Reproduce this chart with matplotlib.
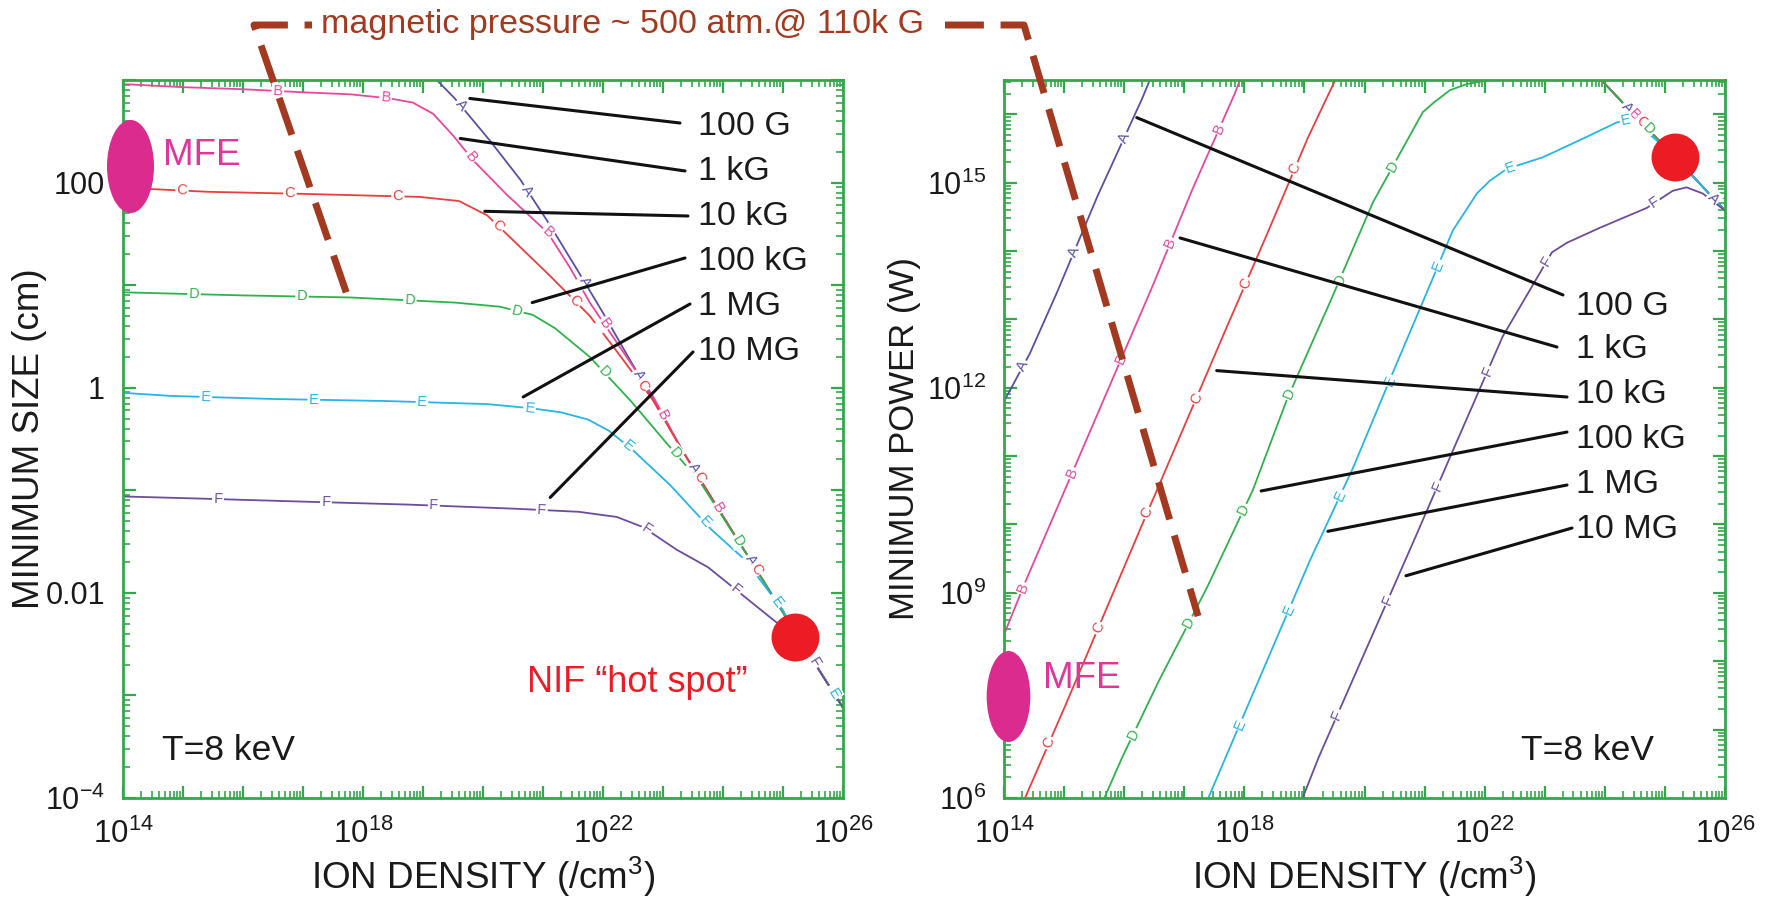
import numpy as np
import matplotlib
matplotlib.use("Agg")
import matplotlib.pyplot as plt
from matplotlib.ticker import LogLocator, FuncFormatter, NullFormatter
from matplotlib.path import Path
from matplotlib.transforms import Affine2D
from matplotlib.lines import Line2D

plt.rcParams['font.family'] = ['Liberation Sans', 'DejaVu Sans']
plt.rcParams['mathtext.fontset'] = 'custom'
plt.rcParams['mathtext.rm'] = 'Liberation Sans'
plt.rcParams['mathtext.it'] = 'Liberation Sans:italic'
plt.rcParams['mathtext.bf'] = 'Liberation Sans:bold'

# ---------------- data (log10 values) ----------------
field_labels = ["100 G", "1 kG", "10 kG", "100 kG", "1 MG", "10 MG"]
curve_letters = ["A", "B", "C", "D", "E", "F"]
curve_colors = ["#5a4fa6", "#e8489b", "#ee3d3d", "#2fb24c", "#27b4e6", "#6b4c9f"]

# Left panel: log10(ion density) vs log10(minimum size [cm])
size_A_logn = [19.23, 19.53, 20.1, 20.62, 21.1, 21.57, 22.0, 22.45, 22.9, 23.32, 23.9, 24.5, 25.2, 26.0]
size_A_logs = [3.0, 2.82, 2.42, 2.03, 1.6, 1.15, 0.73, 0.27, -0.18, -0.61, -1.16, -1.72, -2.38, -3.12]
size_B_logn = [14.0, 15.0, 16.0, 17.0, 17.8, 18.45, 18.83, 19.17, 19.5, 19.83, 20.4, 21.08, 21.45, 21.78, 22.3, 22.83, 23.32, 23.9, 24.5, 25.2, 26.0]
size_B_logs = [2.96, 2.93, 2.91, 2.88, 2.86, 2.82, 2.78, 2.67, 2.46, 2.22, 1.88, 1.51, 1.17, 0.83, 0.38, -0.08, -0.61, -1.16, -1.72, -2.38, -3.12]
size_C_logn = [14.0, 15.42, 17.0, 18.95, 19.6, 20.07, 20.48, 21.1, 21.78, 22.3, 22.83, 23.32, 23.9, 24.5, 25.2, 26.0]
size_C_logs = [1.95, 1.91, 1.89, 1.86, 1.82, 1.68, 1.45, 1.1, 0.7, 0.3, -0.12, -0.61, -1.16, -1.72, -2.38, -3.12]
size_D_logn = [14.0, 16.0, 17.78, 19.53, 20.28, 20.83, 21.2, 21.78, 22.48, 23.0, 23.62, 24.5, 25.2, 26.0]
size_D_logs = [0.93, 0.90, 0.88, 0.83, 0.79, 0.71, 0.58, 0.30, -0.14, -0.5, -0.92, -1.72, -2.38, -3.12]
size_E_logn = [14.0, 14.8, 16.5, 18.4, 20.07, 20.8, 21.3, 21.75, 22.1, 22.5, 23.12, 23.8, 24.37, 25.0, 25.2, 26.0]
size_E_logs = [-0.05, -0.08, -0.11, -0.13, -0.16, -0.2, -0.24, -0.31, -0.42, -0.61, -0.95, -1.38, -1.68, -2.17, -2.38, -3.12]
size_F_logn = [14.0, 15.23, 16.98, 18.78, 20.55, 21.6, 22.23, 22.67, 23.23, 23.75, 24.28, 24.83, 25.28, 26.0]
size_F_logs = [-1.06, -1.08, -1.11, -1.14, -1.18, -1.21, -1.26, -1.36, -1.58, -1.75, -2.0, -2.26, -2.46, -3.12]

# Right panel: log10(ion density) vs log10(minimum power [W]); nan = leaves the frame
power_A_logn = [14.0, 14.43, 14.88, 15.56, 16.3, 16.45, np.nan, 23.92, 24.5, 25.17, 26.0]
power_A_logp = [11.8, 12.5, 13.39, 14.81, 16.23, 16.55, np.nan, 16.52, 15.98, 15.37, 14.59]
power_B_logn = [14.0, 14.35, 15.96, 16.46, 17.14, 17.84, 17.95, np.nan, 23.92, 24.5, 25.17, 26.0]
power_B_logp = [8.39, 9.15, 12.44, 13.46, 14.91, 16.3, 16.55, np.nan, 16.52, 15.98, 15.37, 14.59]
power_C_logn = [14.35, 15.01, 16.3, 17.68, 18.38, 19.06, 19.54, np.nan, 23.92, 24.5, 25.17, 26.0]
power_C_logp = [6.0, 7.33, 10.0, 12.83, 14.25, 15.66, 16.55, np.nan, 16.52, 15.98, 15.37, 14.59]
power_D_logn = [15.67, 15.96, 16.57, 17.38, 18.14, 18.71, 19.45, 20.14, 20.97, 21.14, 21.42, 21.7, 22.2, 22.35, np.nan, 23.92, 24.5, 25.17, 26.0]
power_D_logp = [6.0, 6.58, 7.7, 9.08, 10.5, 11.83, 13.3, 14.71, 16.03, 16.16, 16.35, 16.44, 16.52, 16.55, np.nan, 16.52, 15.98, 15.37, 14.59]
power_E_logn = [17.4, 19.09, 19.81, 20.5, 21.17, 21.47, 21.87, 22.09, 22.37, 22.97, 23.63, 24.2, 24.37, 24.63, 24.87, 25.03, 25.17, 26.0]
power_E_logp = [6.0, 9.47, 10.83, 12.28, 13.67, 14.3, 14.84, 15.03, 15.2, 15.37, 15.64, 15.88, 15.91, 15.79, 15.61, 15.47, 15.37, 14.59]
power_F_logn = [18.97, 19.24, 20.84, 21.54, 22.3, 23.12, 23.37, 23.92, 24.7, 25.13, 25.36, 25.63, 26.0]
power_F_logp = [6.0, 6.6, 9.8, 11.22, 12.75, 13.98, 14.12, 14.34, 14.63, 14.88, 14.93, 14.84, 14.59]

# points the leader lines of the field labels touch (log10 n, log10 y)
size_leader_logn = [19.78, 19.62, 20.03, 20.82, 20.67, 21.12]
size_leader_logy = [2.82, 2.43, 1.72, 0.83, -0.09, -1.07]
power_leader_logn = [16.21, 16.93, 17.54, 18.28, 19.39, 20.69]
power_leader_logy = [15.95, 14.19, 12.25, 10.49, 9.90, 9.25]

# marked regimes
mfe_size = (14.11, 2.16)
mfe_power = (14.07, 7.49)
nif_size = (25.2, -2.43)
nif_power = (25.17, 15.37)
pressure_size = (17.72, 0.93)
pressure_power = (17.23, 8.66)

size_curves = [(size_A_logn, size_A_logs), (size_B_logn, size_B_logs), (size_C_logn, size_C_logs),
               (size_D_logn, size_D_logs), (size_E_logn, size_E_logs), (size_F_logn, size_F_logs)]
power_curves = [(power_A_logn, power_A_logp), (power_B_logn, power_B_logp), (power_C_logn, power_C_logp),
                (power_D_logn, power_D_logp), (power_E_logn, power_E_logp), (power_F_logn, power_F_logp)]

# ---------------- figure ----------------
W, H = 1786, 897
fig = plt.figure(figsize=(W / 100, H / 100), dpi=100)
axL = fig.add_axes([123 / W, 1 - 798 / H, 720 / W, 718 / H])
axR = fig.add_axes([1004 / W, 1 - 798 / H, 721 / W, 718 / H])

GREEN = "#33a84a"
BROWN = "#a3391f"
MAGENTA = "#dc2b8f"
RED = "#ec1c24"


def style_axis(ax, ylim, ylabels):
    ax.set_xscale('log')
    ax.set_yscale('log')
    ax.set_xlim(1e14, 1e26)
    ax.set_ylim(*ylim)
    for sp in ax.spines.values():
        sp.set_color(GREEN)
        sp.set_linewidth(2.0)
    ax.xaxis.set_major_locator(LogLocator(base=10, subs=(1.0,), numticks=200))
    ax.yaxis.set_major_locator(LogLocator(base=10, subs=(1.0,), numticks=200))
    ax.xaxis.set_minor_locator(LogLocator(base=10, subs=np.arange(2, 10), numticks=200))
    ax.yaxis.set_minor_locator(LogLocator(base=10, subs=np.arange(2, 10), numticks=200))
    ax.xaxis.set_minor_formatter(NullFormatter())
    ax.yaxis.set_minor_formatter(NullFormatter())
    xl = {14: r"$10^{14}$", 18: r"$10^{18}$", 22: r"$10^{22}$", 26: r"$10^{26}$"}
    ax.xaxis.set_major_formatter(FuncFormatter(lambda v, p: xl.get(int(round(np.log10(v))), "")))
    ax.yaxis.set_major_formatter(FuncFormatter(lambda v, p: ylabels.get(int(round(np.log10(v))), "")))
    ax.tick_params(which='both', direction='in', top=True, right=True, color=GREEN)
    ax.tick_params(which='major', length=9, width=1.6)
    ax.tick_params(which='minor', length=5, width=1.2)
    ax.tick_params(axis='x', which='major', labelsize=22.5, pad=15, labelcolor='#1a1a1a')
    ax.tick_params(axis='y', which='major', labelsize=22, pad=13, labelcolor='#1a1a1a')


style_axis(axL, (1e-4, 1e3), {2: "100", 0: "1", -2: "0.01", -4: r"$10^{-4}$"})
style_axis(axR, (1e6, 10 ** 16.5), {15: r"$10^{15}$", 12: r"$10^{12}$", 9: r"$10^{9}$", 6: r"$10^{6}$"})

for ax in (axL, axR):
    ax.set_xlabel(r"ION DENSITY (/cm$^3$)", fontsize=26.5, color='#1a1a1a')
    ax.xaxis.set_label_coords(0.5, (798 - 877) / 718)
    ax.xaxis.label.set_va('center')
axL.set_ylabel("MINIMUM SIZE (cm)", fontsize=26.5, color='#1a1a1a', va='center')
axL.yaxis.set_label_coords((30 - 123) / 720, 0.5)
axR.set_ylabel("MINIMUM POWER (W)", fontsize=25, color='#1a1a1a', va='center')
axR.yaxis.set_label_coords((905 - 1004) / 721, 0.5)


def draw_curves(ax, curves):
    for (lx, ly), col in zip(curves, curve_colors):
        ax.plot(10 ** np.asarray(lx, float), 10 ** np.asarray(ly, float), color=col, lw=1.3, zorder=2)


def place_letters(ax, lx, ly, letter, color, spacing, offset):
    x = np.asarray(lx, float)
    y = np.asarray(ly, float)
    bb = ax.bbox
    inv = ax.transData.inverted()
    ok = np.isfinite(x) & np.isfinite(y)
    runs, cur = [], []
    for i in range(len(x)):
        if ok[i]:
            cur.append(i)
        else:
            if len(cur) > 1:
                runs.append(cur)
            cur = []
    if len(cur) > 1:
        runs.append(cur)
    for run in runs:
        pts = ax.transData.transform(np.column_stack([10 ** x[run], 10 ** y[run]]))
        seg = np.diff(pts, axis=0)
        sl = np.hypot(seg[:, 0], seg[:, 1])
        cum = np.concatenate([[0], np.cumsum(sl)])
        s = offset
        while s < cum[-1]:
            i = min(np.searchsorted(cum, s) - 1, len(sl) - 1)
            i = max(i, 0)
            t = (s - cum[i]) / sl[i] if sl[i] > 0 else 0
            p = pts[i] + t * seg[i]
            if bb.x0 + 8 < p[0] < bb.x1 - 8 and bb.y0 + 8 < p[1] < bb.y1 - 8:
                ang = np.degrees(np.arctan2(seg[i, 1], seg[i, 0]))
                if ang > 90:
                    ang -= 180
                if ang < -90:
                    ang += 180
                d = inv.transform(p)
                ax.text(d[0], d[1], letter, rotation=ang, rotation_mode='anchor', ha='center', va='center',
                        fontsize=10.5, color=color, zorder=3,
                        bbox=dict(boxstyle='square,pad=0.1', fc='white', ec='none'))
            s += spacing


draw_curves(axL, size_curves)
draw_curves(axR, power_curves)
for k, ((lx, ly), col, let) in enumerate(zip(size_curves, curve_colors, curve_letters)):
    place_letters(axL, lx, ly, let, col, 108, 35 + 12 * k)
for k, ((lx, ly), col, let) in enumerate(zip(power_curves, curve_colors, curve_letters)):
    place_letters(axR, lx, ly, let, col, 125, 40 + 10 * k)

# leader lines + field labels
size_label_base = [0.9234, 0.8607, 0.7981, 0.7354, 0.6727, 0.6100]
size_line_end = [(0.7736, 0.9401), (0.7806, 0.8733), (0.7847, 0.8106), (0.7806, 0.7521), (0.7875, 0.6880), (0.7917, 0.6212)]
power_label_base = [0.6727, 0.6128, 0.5501, 0.4875, 0.4248, 0.3621]
power_line_end = [(0.7753, 0.7006), (0.7670, 0.6281), (0.7809, 0.5585), (0.7809, 0.5097), (0.7809, 0.4359), (0.7878, 0.3760)]

for ax, lnx, lny, base, ends, lx0 in [(axL, size_leader_logn, size_leader_logy, size_label_base, size_line_end, 0.7986),
                                       (axR, power_leader_logn, power_leader_logy, power_label_base, power_line_end, 0.7933)]:
    for lab, a, b, yb, e in zip(field_labels, lnx, lny, base, ends):
        ax.annotate('', xy=(10 ** a, 10 ** b), xycoords='data', xytext=e, textcoords='axes fraction',
                    arrowprops=dict(arrowstyle='-', color='#111111', lw=2.2, shrinkA=0, shrinkB=0), zorder=6)
        ax.text(lx0, yb, lab, transform=ax.transAxes, fontsize=24.5, color='#1a1a1a', ha='left', va='baseline', zorder=6)


# MFE ellipses
def ellipse_marker(ratio):
    return Path.unit_circle().transformed(Affine2D().scale(ratio, 1.0))


axL.plot(10 ** mfe_size[0], 10 ** mfe_size[1], marker=ellipse_marker(0.505), ms=67, color=MAGENTA,
         mec='none', clip_on=False, zorder=7)
axR.plot(10 ** mfe_power[0], 10 ** mfe_power[1], marker=ellipse_marker(0.48), ms=65.5, color=MAGENTA,
         mec='none', clip_on=False, zorder=7)
axL.text(0.0556, 0.8816, "MFE", transform=axL.transAxes, fontsize=26.5, color="#e2359b", va='baseline', zorder=7)
axR.text(0.054, 0.1532, "MFE", transform=axR.transAxes, fontsize=26.5, color="#e2359b", va='baseline', zorder=7)

# NIF hot spot
axL.plot(10 ** nif_size[0], 10 ** nif_size[1], 'o', ms=34.5, color=RED, mec='none', clip_on=False, zorder=7)
axR.plot(10 ** nif_power[0], 10 ** nif_power[1], 'o', ms=34.5, color=RED, mec='none', clip_on=False, zorder=7)
axL.text(0.561, 0.1476, "NIF \u201chot spot\u201d", transform=axL.transAxes, fontsize=26, color=RED, va='baseline')

axL.text(0.054, 0.0529, "T=8 keV", transform=axL.transAxes, fontsize=25.5, color='#1a1a1a', va='baseline')
axR.text(0.717, 0.0529, "T=8 keV", transform=axR.transAxes, fontsize=25.5, color='#1a1a1a', va='baseline')

# magnetic pressure bracket
to_fig = fig.transFigure.inverted()
pL = to_fig.transform(axL.transData.transform((10 ** pressure_size[0], 10 ** pressure_size[1])))
pR = to_fig.transform(axR.transData.transform((10 ** pressure_power[0], 10 ** pressure_power[1])))
ytop = 1 - 25 / H
dash = (0, (5.6, 2.4))
fig.add_artist(Line2D([pL[0], 254 / W, 312 / W], [pL[1], ytop, ytop], transform=fig.transFigure,
                      color=BROWN, lw=5, linestyle=dash, solid_capstyle='butt', dash_capstyle='butt'))
fig.add_artist(Line2D([945 / W, 1024 / W, pR[0]], [ytop, ytop, pR[1]], transform=fig.transFigure,
                      color=BROWN, lw=5, linestyle=dash, solid_capstyle='butt', dash_capstyle='butt'))
fig.text(321 / W, ytop, "magnetic pressure ~ 500 atm.@ 110k G", fontsize=24.5, color=BROWN,
         ha='left', va='center')

fig.savefig("out.png", dpi=100, facecolor='white')
